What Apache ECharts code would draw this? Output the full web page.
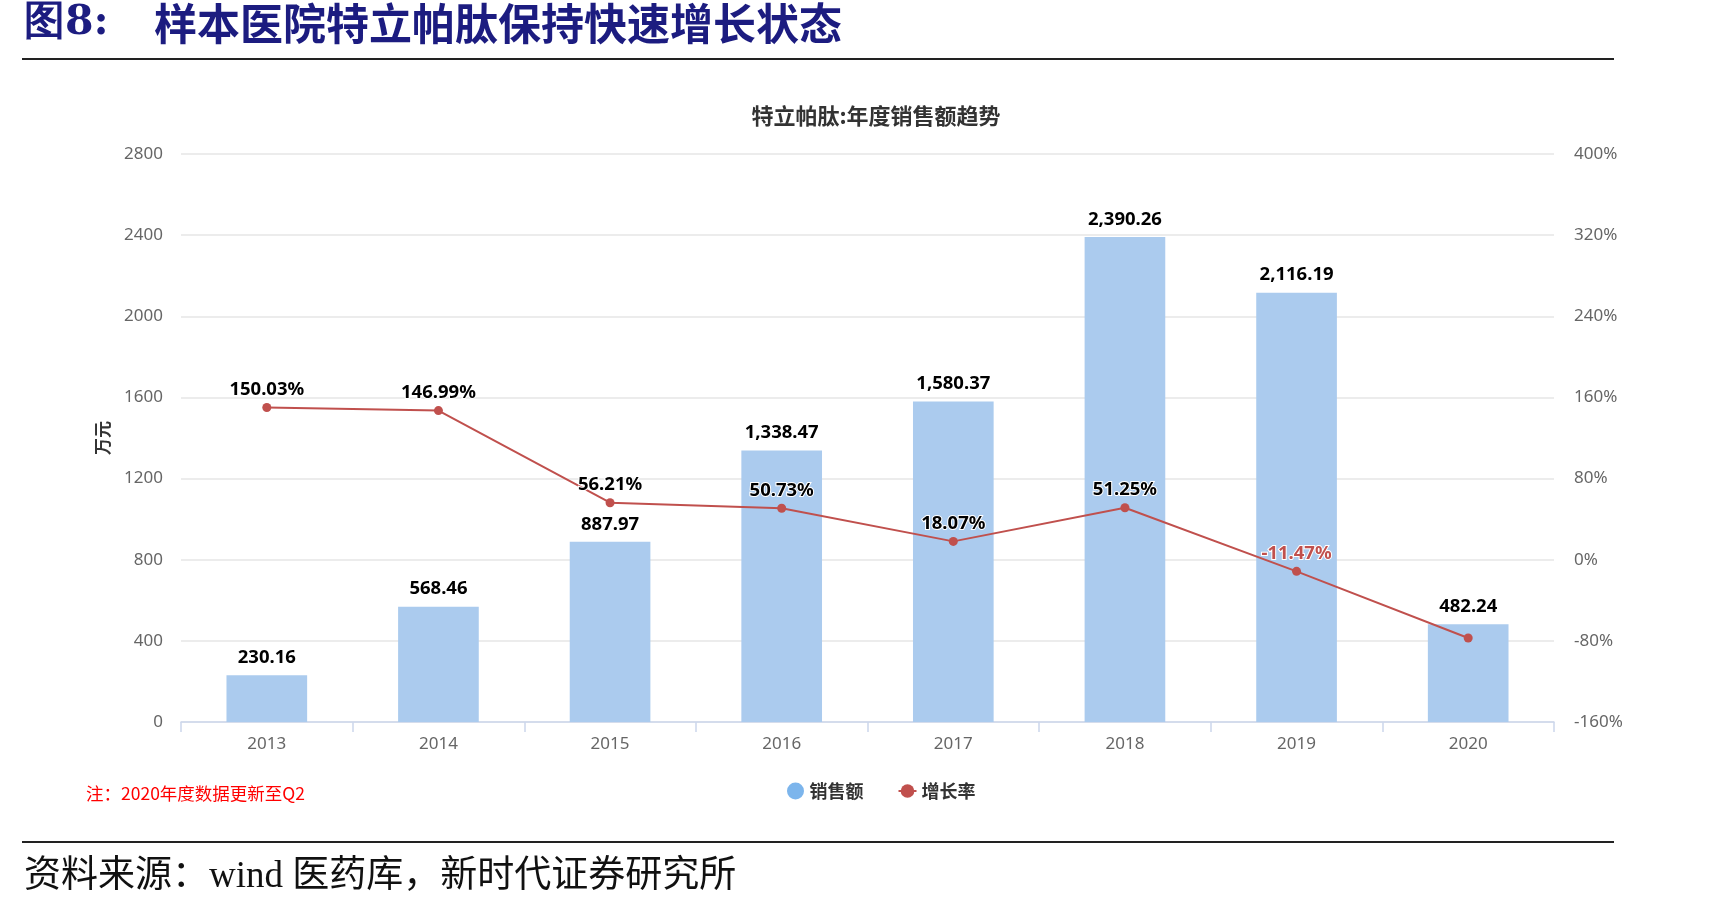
<!DOCTYPE html>
<html>
<head>
<meta charset="utf-8">
<script src="https://cdn.jsdelivr.net/npm/echarts@6/dist/echarts.min.js"></script>
<style>
html, body { margin: 0; padding: 0; background: #fff; }
#main { width: 1724px; height: 908px; }
</style>
</head>
<body>
<div id="main"></div>
<script>
var years = ['2013', '2014', '2015', '2016', '2017', '2018', '2019', '2020'];
var salesValues = [230.16, 568.46, 887.97, 1338.47, 1580.37, 2390.26, 2116.19, 482.24];
var growthValues = [150.03, 146.99, 56.21, 50.73, 18.07, 51.25, -11.47, -77.21];
var growthLabelShown = [true, true, true, true, true, true, true, false];
var leftTicks = { min: 0, max: 2800, interval: 400 };
var rightTicks = { min: -160, max: 400, interval: 80 };

var numFont = '"Noto Sans", "Open Sans", sans-serif';
var cjkFont = '"Noto Sans CJK SC", sans-serif';

function fmtMoney(v){
	var parts = v.toFixed(2).split('.');
	parts[0] = parts[0].replace(/\B(?=(\d{3})+(?!\d))/g, ',');
	return parts.join('.');
}

var growthData = [];
for (var i = 0; i < growthValues.length; i++) {
	var item = { value: growthValues[i] };
	if (!growthLabelShown[i]) {
		item.label = { show: false };
	} else if (growthValues[i] < 0) {
		item.label = { color: '#c0504d' };
	}
	growthData.push(item);
}

var chart = echarts.init(document.getElementById('main'));

var option = {
	animation: false,
	backgroundColor: '#fff',
	legend: {
		top: 777,
		left: 782,
		itemGap: 34,
		itemWidth: 18,
		itemHeight: 17,
		textStyle: { fontFamily: cjkFont, fontSize: 18, fontWeight: 'bold', color: '#333' },
		data: [
			{ name: '销售额', icon: 'circle', itemStyle: { color: '#7cb5ec' } },
			{ name: '增长率' }
		]
	},
	grid: { left: 181, right: 170, top: 154, bottom: 186, containLabel: false },
	xAxis: {
		type: 'category',
		data: years,
		axisLine: { lineStyle: { color: '#ccd6eb', width: 1.5 } },
		axisTick: { show: true, length: 10, lineStyle: { color: '#ccd6eb', width: 1.5 } },
		axisLabel: { margin: 14, fontFamily: numFont, fontSize: 17, color: '#666' }
	},
	yAxis: [
		{
			type: 'value',
			min: leftTicks.min,
			max: leftTicks.max,
			interval: leftTicks.interval,
			name: '万元',
			nameLocation: 'middle',
			nameRotate: 90,
			nameGap: 70,
			nameTextStyle: { fontFamily: cjkFont, fontSize: 17, fontWeight: 'bold', color: '#333' },
			axisLine: { show: false },
			axisTick: { show: false },
			axisLabel: {
				margin: 18, fontFamily: numFont, fontSize: 17, color: '#666',
				formatter: function(v){ return String(v); }
			},
			splitLine: { lineStyle: { color: '#e6e6e6', width: 1.5 } }
		},
		{
			type: 'value',
			min: rightTicks.min,
			max: rightTicks.max,
			interval: rightTicks.interval,
			axisLine: { show: false },
			axisTick: { show: false },
			axisLabel: {
				margin: 20, fontFamily: numFont, fontSize: 17, color: '#666',
				formatter: function(v){ return v + '%'; }
			},
			splitLine: { show: false }
		}
	],
	series: [
		{
			name: '销售额',
			type: 'bar',
			data: salesValues,
			barWidth: '47%',
			itemStyle: { color: '#abcbee' },
			label: {
				show: true,
				position: 'top',
				distance: 8,
				fontFamily: numFont,
				fontSize: 18.5,
				fontWeight: 'bold',
				color: '#000',
				textBorderColor: '#fff',
				textBorderWidth: 2,
				formatter: function(p){ return fmtMoney(p.value); }
			}
		},
		{
			name: '增长率',
			type: 'line',
			yAxisIndex: 1,
			data: growthData,
			symbol: 'circle',
			symbolSize: 9,
			itemStyle: { color: '#c0504d' },
			lineStyle: { color: '#c0504d', width: 2 },
			label: {
				show: true,
				position: 'top',
				distance: 4,
				fontFamily: numFont,
				fontSize: 18.5,
				fontWeight: 'bold',
				color: '#000',
				textBorderColor: '#fff',
				textBorderWidth: 2,
				formatter: function(p){ return p.value.toFixed(2) + '%'; }
			},
			z: 3
		}
	],
	graphic: [
		{
			type: 'text', left: 24, top: 3,
			style: { text: '图8:', font: 'bold 41px "DejaVu Serif", serif', fill: '#1c1c80' }
		},
		{
			type: 'text', left: 154, top: 2,
			style: { text: '样本医院特立帕肽保持快速增长状态', font: 'bold 43px "Noto Sans CJK SC", serif', fill: '#1c1c80' }
		},
		{
			type: 'rect', shape: { x: 22, y: 58, width: 1592, height: 2 },
			style: { fill: '#222' }
		},
		{
			type: 'text', x: 876, y: 116,
			style: { text: '特立帕肽:年度销售额趋势', font: 'bold 22px "Noto Sans CJK SC", sans-serif', fill: '#333', textAlign: 'center', textVerticalAlign: 'middle' }
		},
		{
			type: 'text', left: 86, top: 785,
			style: { text: '注：2020年度数据更新至Q2', font: '17.5px "Noto Sans CJK SC", sans-serif', fill: '#ff0000' }
		},
		{
			type: 'rect', shape: { x: 22, y: 841, width: 1592, height: 2 },
			style: { fill: '#222' }
		},
		{
			type: 'text', left: 24, top: 859,
			style: { text: '资料来源：wind 医药库，新时代证券研究所', font: '37px "Liberation Serif", "Noto Sans CJK SC", serif', fill: '#111' }
		}
	]
};

chart.setOption(option);
</script>
</body>
</html>
